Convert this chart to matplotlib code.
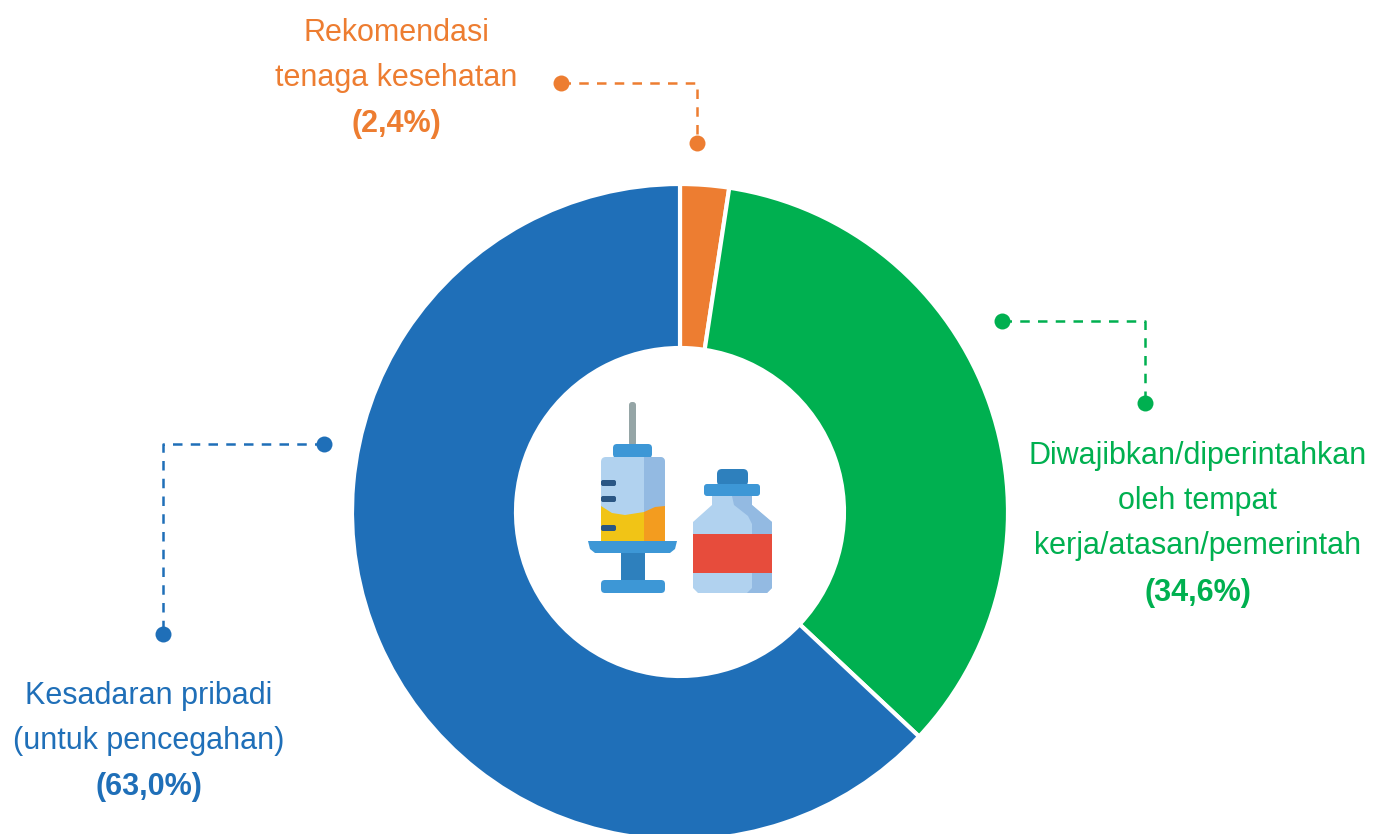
import matplotlib

matplotlib.use("Agg")
import matplotlib.pyplot as plt
from matplotlib.patches import FancyBboxPatch, Polygon, Rectangle

W, H = 1373, 834

# starts at 12 o'clock, clockwise
shares = [2.4, 34.6, 63.0]
colors = ["#ED7D31", "#00B050", "#1F6FB8"]
names = [
    "Rekomendasi\ntenaga kesehatan",
    "Diwajibkan/diperintahkan\noleh tempat\nkerja/atasan/pemerintah",
    "Kesadaran pribadi\n(untuk pencegahan)",
]
value_labels = ["(2,4%)", "(34,6%)", "(63,0%)"]

FONT = ["Liberation Sans"]
FS = 22


def box(ax, x0, y0, x1, y1, color, r=2):
    patch = FancyBboxPatch(
        (x0 + r, y0 + r),
        x1 - x0 - 2 * r,
        y1 - y0 - 2 * r,
        boxstyle=f"round,pad={r},rounding_size={r}",
        fc=color,
        ec="none",
    )
    ax.add_patch(patch)
    return patch


def draw_icon(ax):
    # syringe
    box(ax, 629, 402, 636, 446, "#95A5A6", 3)
    box(ax, 613, 444, 652, 458, "#3D97D6", 4)
    barrel = box(ax, 601, 457, 665, 541, "#B1D2EF", 5)
    shade = ax.add_patch(Rectangle((644, 457), 21, 84, fc="#93BAE2", ec="none"))
    shade.set_clip_path(barrel)
    ax.add_patch(
        Polygon(
            [(601, 506), (612, 513), (625, 515), (644, 512), (644, 541), (601, 541)],
            fc="#F1C416",
            ec="none",
        )
    )
    ax.add_patch(
        Polygon([(644, 512), (655, 507), (665, 506), (665, 541), (644, 541)], fc="#F39C1F", ec="none")
    )
    for y in [483, 499, 528]:
        box(ax, 601, y - 3, 616, y + 3, "#2A5684", 2)
    ax.add_patch(
        Polygon(
            [(588, 541), (677, 541), (675, 549), (670, 553), (595, 553), (590, 549)],
            fc="#3D97D6",
            ec="none",
        )
    )
    ax.add_patch(Rectangle((621, 553), 24, 28, fc="#2E80BD", ec="none"))
    box(ax, 601, 580, 665, 593, "#3D97D6", 4)
    # vial
    ax.add_patch(
        Polygon(
            [(712, 496), (752, 496), (752, 505), (772, 522), (772, 588), (767, 593),
             (698, 593), (693, 588), (693, 522), (712, 505)],
            fc="#B1D2EF",
            ec="none",
        )
    )
    ax.add_patch(
        Polygon(
            [(732, 496), (752, 496), (752, 505), (772, 522), (772, 588), (767, 593),
             (747, 593), (752, 588), (752, 524), (748, 516), (734, 505)],
            fc="#93BAE2",
            ec="none",
        )
    )
    ax.add_patch(Rectangle((693, 534), 79, 39, fc="#E74C3C", ec="none"))
    box(ax, 717, 469, 748, 486, "#2E80BD", 5)
    box(ax, 704, 484, 760, 496, "#3D97D6", 3)


def leader(ax, points, color):
    xs, ys = zip(*points)
    ax.plot(xs, ys, color=color, lw=1.8, ls=(0, (3.8, 3.3)), zorder=2)
    ax.plot([xs[0], xs[-1]], [ys[0], ys[-1]], "o", color=color, ms=11.5, mew=0, zorder=3)


def label(ax, x, y_top, name, value, color):
    n_lines = name.count("\n") + 1
    for i, line in enumerate(name.split("\n")):
        ax.text(x, y_top + i * 45, line, color=color, family=FONT, fontsize=FS, ha="center", va="center")
    ax.text(x, y_top + n_lines * 45.5, value, color=color, family=FONT, fontsize=FS, weight="bold", ha="center", va="center")


fig = plt.figure(figsize=(W / 100, H / 100), dpi=100, facecolor="white")

# donut, the white edge eats 2px on either side of the ring
cx, cy, r = 680, 512, 328
ax_pie = fig.add_axes([(cx - r) / W, 1 - (cy + r) / H, 2 * r / W, 2 * r / H])
ax_pie.pie(
    shares,
    colors=colors,
    startangle=90,
    counterclock=False,
    radius=1,
    wedgeprops={"width": 164 / 328, "edgecolor": "white", "linewidth": 3},
)
ax_pie.set_xlim(-1, 1)
ax_pie.set_ylim(-1, 1)

# pixel space overlay for icon, leaders, labels
ax = fig.add_axes([0, 0, 1, 1])
ax.set_xlim(0, W)
ax.set_ylim(H, 0)
ax.axis("off")
ax.patch.set_alpha(0)

draw_icon(ax)

leader(ax, [(561, 83), (697, 83), (697, 143)], colors[0])
leader(ax, [(1002, 321), (1145, 321), (1145, 403)], colors[1])
leader(ax, [(324, 444), (163, 444), (163, 634)], colors[2])

label(ax, 396, 33, names[0], value_labels[0], colors[0])
label(ax, 1198, 456, names[1], value_labels[1], colors[1])
label(ax, 149, 696, names[2], value_labels[2], colors[2])

fig.savefig("out.png", dpi=100, facecolor="white")
